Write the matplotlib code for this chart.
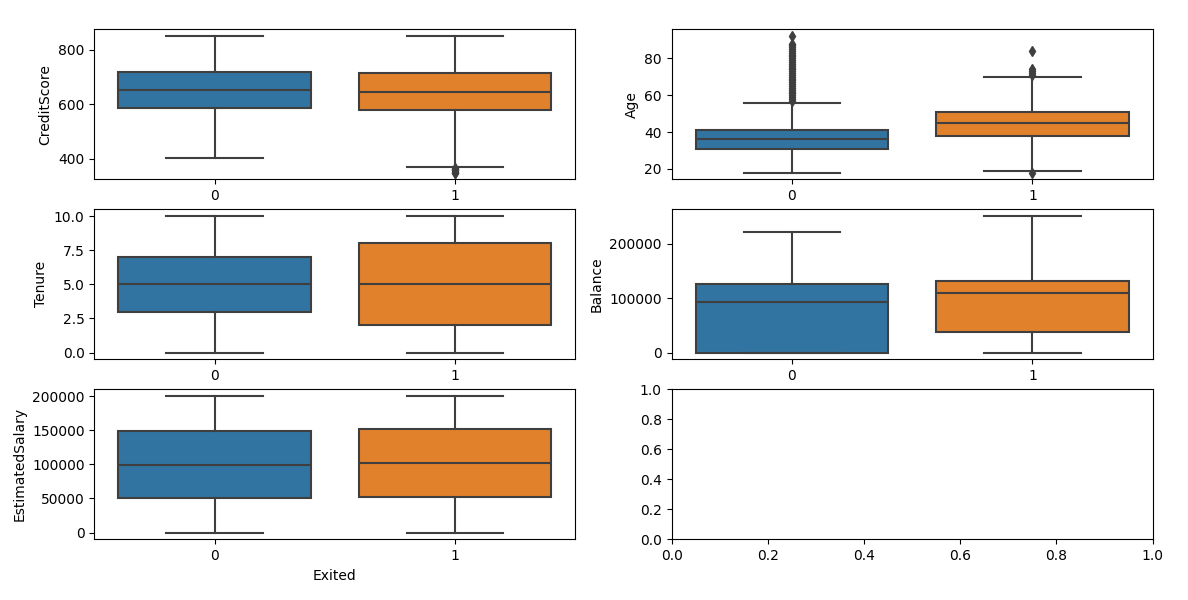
import matplotlib
matplotlib.use("Agg")
import matplotlib.pyplot as plt

# box statistics per Exited group: [low whisker, Q1, median, Q3, high whisker]
groups = ["0", "1"]
box_colors = ["#3274a1", "#e1812c"]
line_color = "#3f3f3f"

credit_score = [[405, 585, 653, 718, 850], [371, 578, 646, 716, 850]]
credit_fliers = [[], [350, 350, 351, 358, 359, 363, 365]]

age = [[18, 31, 36, 41, 56], [19, 38, 45, 51, 70]]
age_fliers = [list(range(57, 89)) + [92], [18, 71, 72, 73, 74, 84]]

tenure = [[0, 3, 5, 7, 10], [0, 2, 5, 8, 10]]
tenure_fliers = [[], []]

balance = [[0, 0, 92500, 127000, 221500], [0, 38300, 109300, 131400, 250900]]
balance_fliers = [[], []]

salary = [[90, 50800, 99600, 148600, 199990], [12, 51900, 102500, 152400, 199810]]
salary_fliers = [[], []]

features = [
    ("CreditScore", credit_score, credit_fliers),
    ("Age", age, age_fliers),
    ("Tenure", tenure, tenure_fliers),
    ("Balance", balance, balance_fliers),
    ("EstimatedSalary", salary, salary_fliers),
]

################################################################

def draw_box(ax, name, stats, fliers):
    bxp_stats = []
    for g, s, f in zip(groups, stats, fliers):
        bxp_stats.append({
            "label": g, "whislo": s[0], "q1": s[1], "med": s[2],
            "q3": s[3], "whishi": s[4], "fliers": f,
        })
    parts = ax.bxp(
        bxp_stats, positions=[0, 1], widths=0.8, patch_artist=True,
        boxprops=dict(edgecolor=line_color, linewidth=1.5),
        medianprops=dict(color=line_color, linewidth=1.5),
        whiskerprops=dict(color=line_color, linewidth=1.5),
        capprops=dict(color=line_color, linewidth=1.5),
        flierprops=dict(marker="d", markerfacecolor=line_color,
                        markeredgecolor=line_color, markersize=5),
    )
    for patch, c in zip(parts["boxes"], box_colors):
        patch.set_facecolor(c)
    ax.set_xlim(-0.5, 1.5)
    ax.set_xticks([0, 1])
    ax.set_xticklabels(groups)
    ax.set_xlabel("Exited")
    ax.set_ylabel(name)

################################################################

fig, axes = plt.subplots(3, 2, figsize=(11.88, 6), dpi=100)
plt.subplots_adjust(left=0.0794, right=0.9703, top=0.951, bottom=0.101,
                    hspace=0.2, wspace=0.2)

for ax, (name, stats, fliers) in zip(axes.flat, features):
    draw_box(ax, name, stats, fliers)

plt.savefig("out.png")
